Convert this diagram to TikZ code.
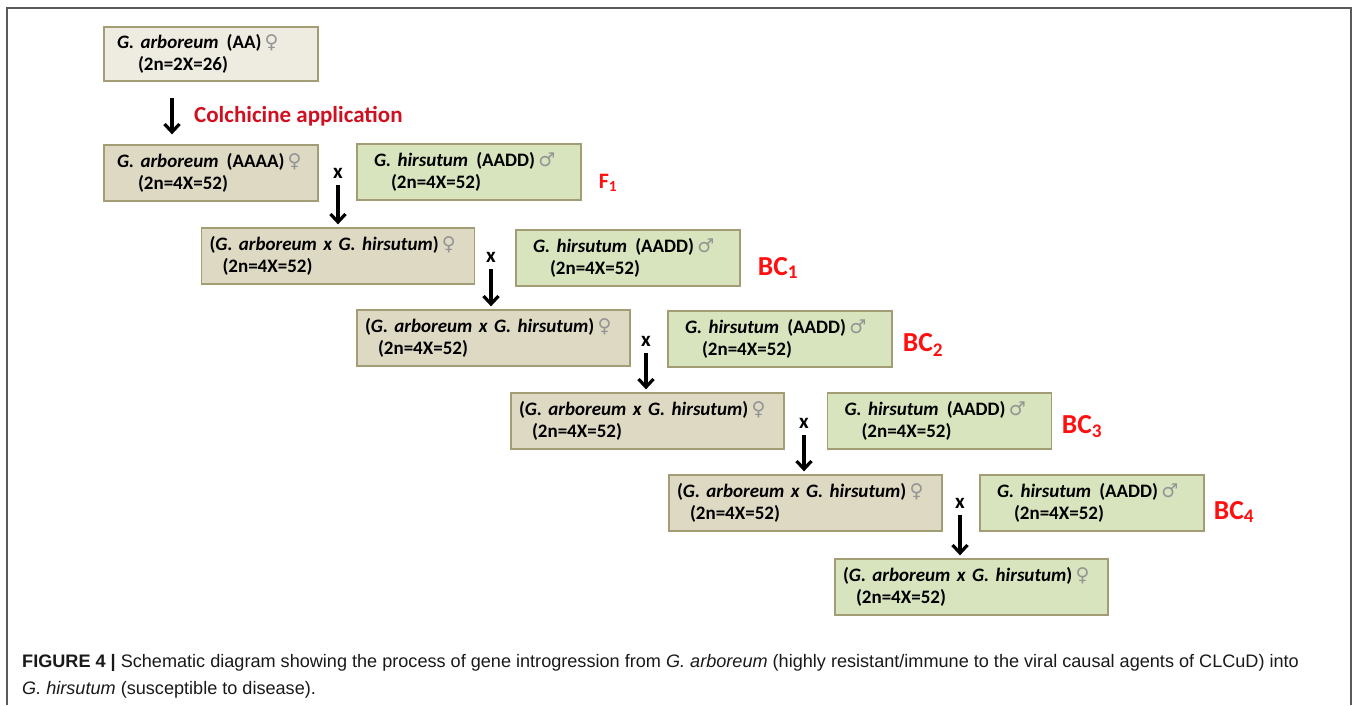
\documentclass[tikz,border=0pt]{standalone}
\usepackage{fontspec}
\setmainfont{Carlito}
\newfontfamily\capfont{Liberation Sans}
\newfontfamily\symfont{DejaVu Sans}
\usetikzlibrary{arrows.meta}

\definecolor{tanpale}{HTML}{EEECE1}
\definecolor{tanbox}{HTML}{DDD9C3}
\definecolor{greenbox}{HTML}{D7E4BD}
\definecolor{boxrule}{HTML}{A39D75}
\definecolor{framegray}{HTML}{5A5A5A}
\definecolor{stagered}{HTML}{FF1010}
\definecolor{colchred}{HTML}{D01020}

\newcommand{\fem}{{\symfont\color{black!42}♀}}
\newcommand{\mal}{{\symfont\color{black!42}♂}}
\newcommand{\gsp}[1]{\textit{G. #1}}

\begin{document}
\begin{tikzpicture}[x=1pt, y=-1pt,
    box/.style={draw=boxrule, line width=1.3pt, minimum height=56pt,
      inner ysep=0pt, align=left, font=\fontsize{19}{22}\selectfont\bfseries},
    arbo/.style={box, inner xsep=13pt, text width=188pt},
    hirs/.style={box, fill=greenbox, inner xsep=17pt, text width=190pt},
    hyb/.style={box, fill=tanbox, inner xsep=8pt, text width=257pt},
    cross/.style={inner sep=0pt, font=\fontsize{21}{24}\selectfont\bfseries},
    stage/.style={text=stagered, inner sep=0pt, font=\fontsize{27.5}{30}\selectfont\bfseries},
    arr/.style={line width=3.2pt, -{Straight Barb[length=8pt,width=15pt]}}]
      \useasboundingbox (0,0) rectangle (1357,705) ;
      \draw[framegray, line width=1.5pt] (7,705) -- (7,8) -- (1351,8) -- (1351,705) ;
      % parent lines
      \node[arbo, fill=tanpale, minimum height=54pt] (aa) at (211,54)
        {\gsp{arboreum}\hspace{8pt}(AA)\,\fem\\\hspace*{21pt}(2n=2X=26)} ;
      \node[arbo, fill=tanbox] (aaaa) at (211,173)
        {\gsp{arboreum}\hspace{8pt}(AAAA)\,\fem\\\hspace*{21pt}(2n=4X=52)} ;
      \node[anchor=west, inner sep=0pt, text=colchred, font=\fontsize{23}{26}\selectfont\bfseries]
        (colch) at (194,116) {Colchicine application} ;
      \draw[arr, shorten <=16pt, shorten >=10pt] ([xshift=-39pt]aa.south) -- ([xshift=-39pt]aaaa.north) ;
      % recurrent parent
      \node[hirs] (h1) at (469,172) {\gsp{hirsutum}\hspace{8pt}(AADD)\,\mal\\\hspace*{17pt}(2n=4X=52)} ;
      \node[hirs] (h2) at (628,258) {\gsp{hirsutum}\hspace{8pt}(AADD)\,\mal\\\hspace*{17pt}(2n=4X=52)} ;
      \node[hirs] (h3) at (780,339) {\gsp{hirsutum}\hspace{8pt}(AADD)\,\mal\\\hspace*{17pt}(2n=4X=52)} ;
      \node[hirs] (h4) at (939.5,421) {\gsp{hirsutum}\hspace{8pt}(AADD)\,\mal\\\hspace*{17pt}(2n=4X=52)} ;
      \node[hirs] (h5) at (1092,503) {\gsp{hirsutum}\hspace{8pt}(AADD)\,\mal\\\hspace*{17pt}(2n=4X=52)} ;
      % hybrids
      \node[hyb] (c1) at (338,256) {(\gsp{arboreum} \textit{x} \gsp{hirsutum})\,\fem\\\hspace*{13pt}(2n=4X=52)} ;
      \node[hyb] (c2) at (493.5,338) {(\gsp{arboreum} \textit{x} \gsp{hirsutum})\,\fem\\\hspace*{13pt}(2n=4X=52)} ;
      \node[hyb] (c3) at (647.5,421) {(\gsp{arboreum} \textit{x} \gsp{hirsutum})\,\fem\\\hspace*{13pt}(2n=4X=52)} ;
      \node[hyb] (c4) at (805.5,503) {(\gsp{arboreum} \textit{x} \gsp{hirsutum})\,\fem\\\hspace*{13pt}(2n=4X=52)} ;
      \node[hyb, fill=greenbox] (c5) at (971.5,587) {(\gsp{arboreum} \textit{x} \gsp{hirsutum})\,\fem\\\hspace*{13pt}(2n=4X=52)} ;
      % generations
      \node[stage, font=\fontsize{22}{24}\selectfont\bfseries] (f1) at (608,183) {F\textsubscript{1}} ;
      \node[stage] (bc1) at (778,268) {BC\textsubscript{1}} ;
      \node[stage] (bc2) at (923,345) {BC\textsubscript{2}} ;
      \node[stage] (bc3) at (1082,427) {BC\textsubscript{3}} ;
      \node[stage] (bc4) at (1234,512) {BC\textsubscript{4}} ;
      % crosses
      \node[cross] (xa) at (338,173) {x} ;
      \node[cross] (xb) at (491,257) {x} ;
      \node[cross] (xc) at (646,341) {x} ;
      \node[cross] (xd) at (804,423) {x} ;
      \node[cross] (xe) at (960,503) {x} ;
      \draw[arr, shorten <=7pt, shorten >=3pt] (xa.south) -- (xa.south |- c1.north) ;
      \draw[arr, shorten <=7pt, shorten >=3pt] (xb.south) -- (xb.south |- c2.north) ;
      \draw[arr, shorten <=7pt, shorten >=3pt] (xc.south) -- (xc.south |- c3.north) ;
      \draw[arr, shorten <=7pt, shorten >=3pt] (xd.south) -- (xd.south |- c4.north) ;
      \draw[arr, shorten <=7pt, shorten >=3pt] (xe.south) -- (xe.south |- c5.north) ;
      \node[anchor=north west, inner sep=0pt, align=left, text=black!90,
        font=\capfont\fontsize{18.1}{27}\selectfont] (cap) at (22,654)
        {\textbf{FIGURE 4 |} Schematic diagram showing the process of gene introgression from \textit{G. arboreum} (highly resistant/immune to the viral causal agents of CLCuD) into\\\textit{G. hirsutum} (susceptible to disease).} ;
    \end{tikzpicture}
\end{document}
